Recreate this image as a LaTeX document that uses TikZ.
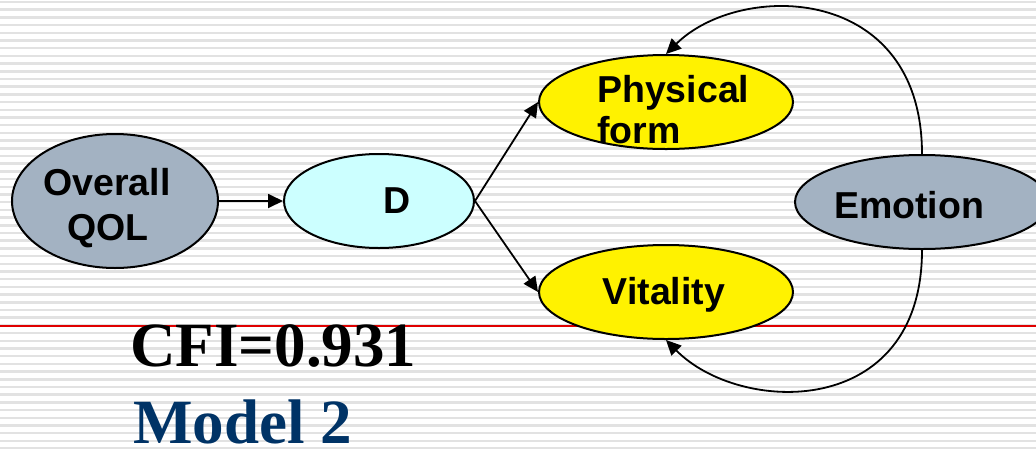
\documentclass[tikz,border=0pt]{standalone}
\usepackage{fontspec}
\setmainfont{Liberation Serif}
\setsansfont{Liberation Sans}
\usetikzlibrary{shapes.geometric,arrows.meta}
\definecolor{stripe}{RGB}{226,226,226}
\definecolor{qolgray}{RGB}{163,178,194}
\definecolor{dcyan}{RGB}{204,255,255}
\definecolor{navy}{RGB}{0,51,102}
\definecolor{redline}{RGB}{224,0,0}
\begin{document}
\begin{tikzpicture}[x=1pt,y=-1pt,
  oval/.style={ellipse,draw=black,line width=2pt,inner sep=0pt},
  lab/.style={font=\sffamily\bfseries\fontsize{37.5}{43}\selectfont,inner sep=0pt,anchor=base},
  big/.style={font=\rmfamily\bfseries\fontsize{63}{70}\selectfont,inner sep=0pt,anchor=base west},
  conn/.style={line width=1.8pt,-{Triangle[length=15pt,width=14pt]}}
]
\useasboundingbox (0,0) rectangle (1036,448);
\clip (0,0) rectangle (1036,448);
\fill[white] (0,0) rectangle (1036,448);
\foreach \i in {0,...,58} \draw[stripe,line width=2.5pt] (0,2+7.7*\i) -- (1036,2+7.7*\i);
\draw[redline,line width=1.3pt] (0,326) -- (1036,326);

\node[oval,fill=qolgray,minimum width=206pt,minimum height=134pt] (qol) at (115,201) {};
\node[oval,fill=dcyan,minimum width=190pt,minimum height=94pt] (d) at (379,201) {};
\node[oval,fill=yellow,minimum width=254pt,minimum height=94pt] (phys) at (666,102) {};
\node[oval,fill=yellow,minimum width=254pt,minimum height=94pt] (vit) at (666,292) {};
\node[oval,fill=qolgray,minimum width=254pt,minimum height=94pt] (emo) at (922,202) {};

\node[lab] (t1) at (107,195) {Overall};
\node[lab] (t2) at (108,240) {QOL};
\node[lab] (td) at (397,213) {D};
\node[lab,anchor=base west] (tp1) at (597,102) {Physical};
\node[lab,anchor=base west] (tp2) at (597,143) {form};
\node[lab] (tv) at (664,304) {Vitality};
\node[lab] (te) at (909,218) {Emotion};
\node[big] (cfi) at (130,366) {CFI=0.931};
\node[big,text=navy] (model) at (133,443) {Model 2};

\draw[conn] (qol.east) -- (d.west);
\draw[conn] (d.east) -- (phys.west);
\draw[conn] (d.east) -- (vit.west);
\draw[conn] (emo.north) .. controls (922,-17) and (740,-19) .. (phys.north);
\draw[conn] (emo.south) .. controls (922,420) and (740,415) .. (vit.south);
\end{tikzpicture}
\end{document}
